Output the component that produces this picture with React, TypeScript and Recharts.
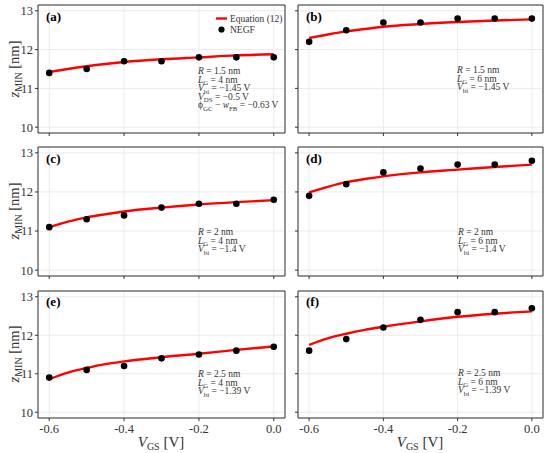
import React from "react";
import {
  ComposedChart,
  Line,
  Scatter,
  XAxis,
  YAxis,
  CartesianGrid,
  ReferenceArea,
} from "recharts";

// V_GS sample points of the NEGF simulation and of the equation curve
const vgs = [-0.6, -0.5, -0.4, -0.3, -0.2, -0.1, 0];
const eqVgs = [-0.6, -0.55, -0.5, -0.45, -0.4, -0.3, -0.2, -0.1, 0];

const xTicks = [-0.6, -0.4, -0.2, 0];
const xTickLabels = ["-0.6", "-0.4", "-0.2", "0.0"];
const yTicks = [10, 11, 12, 13];

// z_MIN [nm], NEGF points
const negfA = [11.4, 11.5, 11.7, 11.7, 11.8, 11.8, 11.8];
const negfB = [12.2, 12.5, 12.7, 12.7, 12.8, 12.8, 12.8];
const negfC = [11.1, 11.3, 11.4, 11.6, 11.7, 11.7, 11.8];
const negfD = [11.9, 12.2, 12.5, 12.6, 12.7, 12.7, 12.8];
const negfE = [10.9, 11.1, 11.2, 11.4, 11.5, 11.6, 11.7];
const negfF = [11.6, 11.9, 12.2, 12.4, 12.6, 12.6, 12.7];

// z_MIN [nm], Equation (12)
const eqA = [11.42, 11.5, 11.57, 11.63, 11.68, 11.75, 11.8, 11.85, 11.88];
const eqB = [12.3, 12.39, 12.47, 12.53, 12.59, 12.66, 12.71, 12.75, 12.78];
const eqC = [11.1, 11.24, 11.35, 11.43, 11.5, 11.6, 11.68, 11.74, 11.79];
const eqD = [11.99, 12.13, 12.25, 12.33, 12.4, 12.5, 12.57, 12.64, 12.7];
const eqE = [10.86, 11.03, 11.15, 11.25, 11.32, 11.43, 11.52, 11.62, 11.71];
const eqF = [11.75, 11.92, 12.04, 12.14, 12.22, 12.36, 12.48, 12.56, 12.62];

const FONT = "Liberation Serif";
const INK = "#333333";

const toRows = (xs: number[], zs: number[]) => xs.map((v, i) => ({ v, z: zs[i] }));

const panels = [
  { id: "a", negf: negfA, eq: eqA, row: 0, col: 0 },
  { id: "b", negf: negfB, eq: eqB, row: 0, col: 1 },
  { id: "c", negf: negfC, eq: eqC, row: 1, col: 0 },
  { id: "d", negf: negfD, eq: eqD, row: 1, col: 1 },
  { id: "e", negf: negfE, eq: eqE, row: 2, col: 0 },
  { id: "f", negf: negfF, eq: eqF, row: 2, col: 1 },
];

const rowTop = [0, 142, 286];
const rowHeight = [140, 141, 167];

function Dot(props: any) {
  return <circle cx={props.cx} cy={props.cy} r={3.3} fill="#000" />;
}

function Panel({ negf, eq, row, col }: any) {
  const isLeft = col === 0;
  const isBottom = row === 2;
  const width = isLeft ? 290 : 260;
  return (
    <div style={{ position: "absolute", left: isLeft ? 0 : 290, top: rowTop[row] }}>
      <ComposedChart
        width={width}
        height={rowHeight[row]}
        margin={{ top: 5, right: isLeft ? 5 : 7, bottom: 0, left: 0 }}
        style={{ fontFamily: FONT }}
      >
        <CartesianGrid stroke="#ebebeb" strokeWidth={1} />
        <XAxis
          type="number"
          dataKey="v"
          domain={[-0.63, 0.03]}
          ticks={xTicks}
          allowDataOverflow
          height={isBottom ? 35 : 7}
          axisLine={false}
          tickLine={{ stroke: INK }}
          tickSize={3}
          tickMargin={3}
          interval={0}
          tick={{ fill: INK, fontSize: 12.5, fontFamily: FONT }}
          tickFormatter={(v: number) =>
            isBottom ? xTickLabels[xTicks.indexOf(v)] : ""
          }
        />
        <YAxis
          type="number"
          dataKey="z"
          domain={[9.85, 13.15]}
          ticks={yTicks}
          allowDataOverflow
          width={isLeft ? 38 : 8}
          axisLine={false}
          tickLine={{ stroke: INK }}
          tickSize={3}
          tickMargin={2}
          interval={0}
          tick={{ fill: INK, fontSize: 12.5, fontFamily: FONT }}
          tickFormatter={(v: number) => (isLeft ? String(v) : "")}
        />
        <Line
          data={toRows(eqVgs, eq)}
          dataKey="z"
          type="monotone"
          stroke="#ff0000"
          strokeWidth={2.4}
          dot={false}
          isAnimationActive={false}
        />
        <Scatter
          data={toRows(vgs, negf)}
          dataKey="z"
          shape={<Dot />}
          isAnimationActive={false}
        />
        <ReferenceArea
          x1={-0.63}
          x2={0.03}
          y1={9.85}
          y2={13.15}
          fill="none"
          stroke={INK}
          strokeWidth={1}
          ifOverflow="visible"
        />
      </ComposedChart>
    </div>
  );
}

// text with subscripts: parts are [text, italic?, sub?]
function Rich({ x, y, parts, size }: { x: number; y: number; parts: [string, boolean, boolean][]; size: number }) {
  let prevSub = false;
  return (
    <text x={x} y={y} fontSize={size} fill={INK} fontFamily={FONT}>
      {parts.map(([t, it, sub], i) => {
        const dy = sub && !prevSub ? size * 0.25 : !sub && prevSub ? -size * 0.25 : 0;
        prevSub = sub;
        return (
          <tspan
            key={i}
            dy={dy}
            fontStyle={it ? "italic" : "normal"}
            fontSize={sub ? size * 0.72 : size}
          >
            {t}
          </tspan>
        );
      })}
    </text>
  );
}

const paramLines: Record<string, [string, boolean, boolean][][]> = {
  a: [
    [["R", true, false], [" = 1.5 nm", false, false]],
    [["L", true, false], ["G", false, true], [" = 4 nm", false, false]],
    [["V", true, false], ["bi", false, true], [" = \u22121.45 V", false, false]],
    [["V", true, false], ["DS", false, true], [" = \u22120.5 V", false, false]],
    [["\u03d5", false, false], ["GC", false, true], [" \u2212 ", false, false], ["w", true, false], ["FB", false, true], [" = \u22120.63 V", false, false]],
  ],
  b: [
    [["R", true, false], [" = 1.5 nm", false, false]],
    [["L", true, false], ["G", false, true], [" = 6 nm", false, false]],
    [["V", true, false], ["bi", false, true], [" = \u22121.45 V", false, false]],
  ],
  c: [
    [["R", true, false], [" = 2 nm", false, false]],
    [["L", true, false], ["G", false, true], [" = 4 nm", false, false]],
    [["V", true, false], ["bi", false, true], [" = \u22121.4 V", false, false]],
  ],
  d: [
    [["R", true, false], [" = 2 nm", false, false]],
    [["L", true, false], ["G", false, true], [" = 6 nm", false, false]],
    [["V", true, false], ["bi", false, true], [" = \u22121.4 V", false, false]],
  ],
  e: [
    [["R", true, false], [" = 2.5 nm", false, false]],
    [["L", true, false], ["G", false, true], [" = 4 nm", false, false]],
    [["V", true, false], ["bi", false, true], [" = \u22121.39 V", false, false]],
  ],
  f: [
    [["R", true, false], [" = 2.5 nm", false, false]],
    [["L", true, false], ["G", false, true], [" = 6 nm", false, false]],
    [["V", true, false], ["bi", false, true], [" = \u22121.39 V", false, false]],
  ],
};

const paramPos: Record<string, [number, number]> = {
  a: [198, 74],
  b: [457, 73],
  c: [198, 235],
  d: [458, 235],
  e: [198, 377],
  f: [458, 376],
};

function Overlay() {
  const labelPos: Record<string, [number, number]> = {
    a: [46, 21], b: [306, 21], c: [46, 163], d: [306, 163], e: [46, 306], f: [306, 306],
  };
  return (
    <svg
      width={550}
      height={453}
      style={{ position: "absolute", left: 0, top: 0, pointerEvents: "none" }}
    >
      {panels.map((p) => (
        <text
          key={p.id}
          x={labelPos[p.id][0]}
          y={labelPos[p.id][1]}
          fontSize={13}
          fontWeight="bold"
          fontFamily={FONT}
          fill="#000"
        >
          ({p.id})
        </text>
      ))}
      {panels.map((p) =>
        paramLines[p.id].map((parts, i) => (
          <Rich
            key={p.id + i}
            x={paramPos[p.id][0]}
            y={paramPos[p.id][1] + i * 8.6}
            parts={parts}
            size={9.5}
          />
        ))
      )}
      {/* legend in panel (a) */}
      <line x1={216} x2={227} y1={18.5} y2={18.5} stroke="#ff0000" strokeWidth={2.4} />
      <text x={230} y={22} fontSize={9.5} fontFamily={FONT} fill={INK}>
        Equation (12)
      </text>
      <circle cx={221.5} cy={29.5} r={3.1} fill="#000" />
      <text x={230} y={33} fontSize={9.5} fontFamily={FONT} fill={INK}>
        NEGF
      </text>
      {/* y axis titles */}
      {[69, 211, 354].map((cy) => (
        <g key={cy} transform={`translate(19, ${cy}) rotate(-90)`}>
          <text textAnchor="middle" fontSize={14.5} fontFamily={FONT} fill={INK}>
            <tspan fontStyle="italic">z</tspan>
            <tspan fontSize={10} dy={3}>MIN</tspan>
            <tspan dy={-3}> [nm]</tspan>
          </text>
        </g>
      ))}
      {/* x axis titles */}
      {[161, 420].map((cx) => (
        <text key={cx} x={cx} y={447} textAnchor="middle" fontSize={15} fontFamily={FONT} fill={INK}>
          <tspan fontStyle="italic">V</tspan>
          <tspan fontSize={10} dy={3}>GS</tspan>
          <tspan dy={-3}> [V]</tspan>
        </text>
      ))}
    </svg>
  );
}

export default function App() {
  return (
    <div
      style={{
        position: "absolute",
        left: 0,
        top: 0,
        width: 550,
        height: 453,
        background: "#fff",
        fontFamily: FONT,
      }}
    >
      {panels.map((p) => (
        <Panel key={p.id} {...p} />
      ))}
      <Overlay />
    </div>
  );
}
